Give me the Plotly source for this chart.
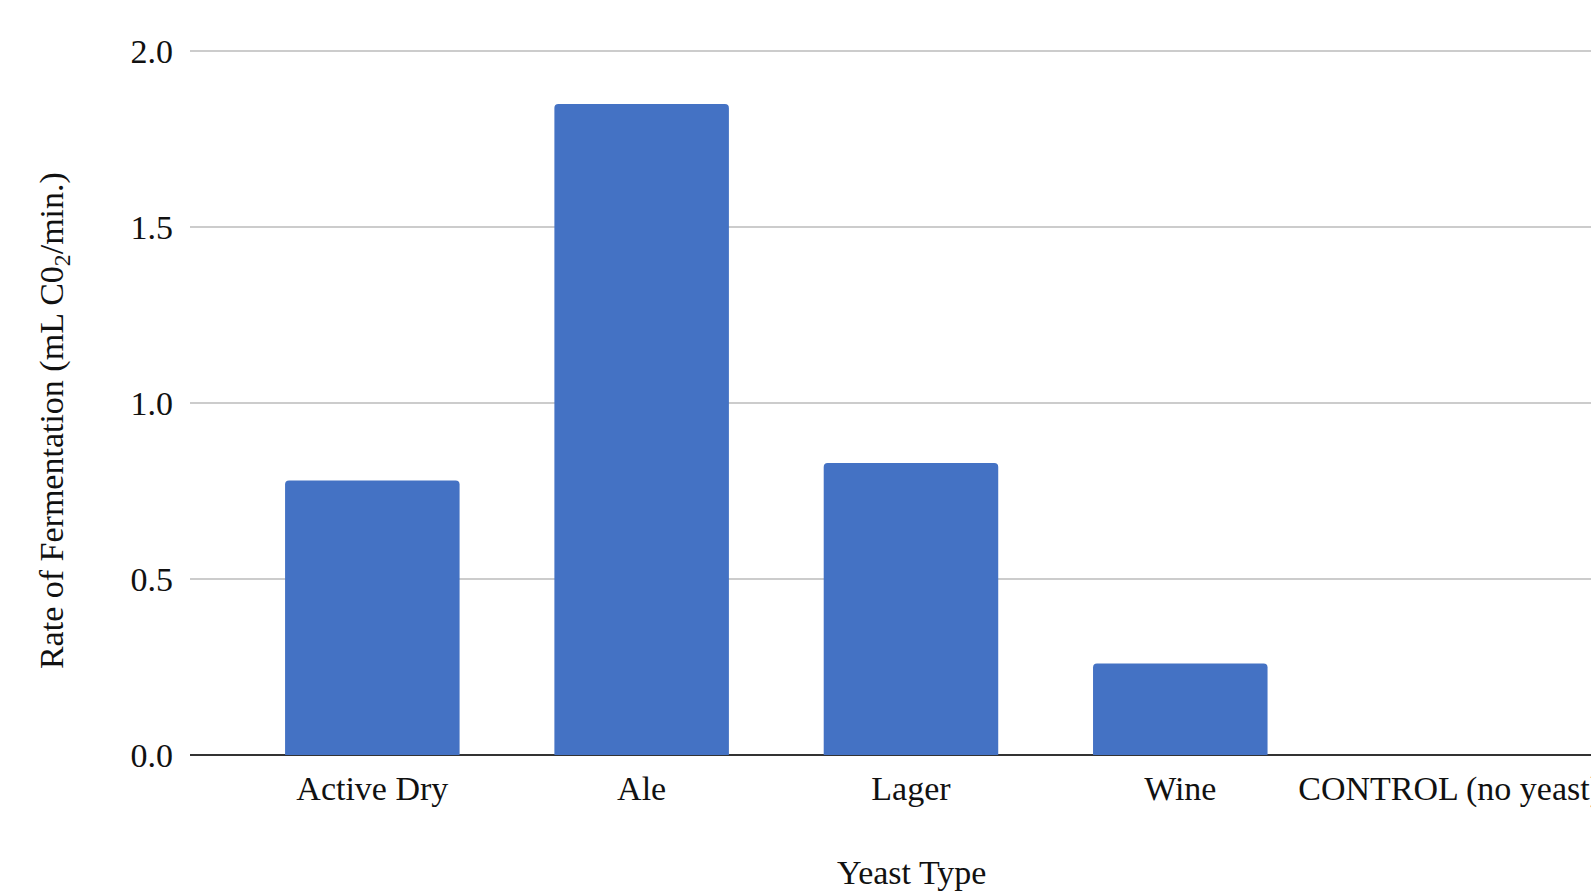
import plotly.graph_objects as go

categories = ["Active Dry", "Ale", "Lager", "Wine", "CONTROL (no yeast)"]
rates = [0.78, 1.85, 0.83, 0.26, 0.0]
y_ticks = [0.0, 0.5, 1.0, 1.5, 2.0]
y_tick_labels = ["0.0", "0.5", "1.0", "1.5", "2.0"]

W, H = 1591, 891
FONT = "Liberation Serif"
FS = 34
COL = "#111111"

top_px, zero_px = 51, 755
ymax = 2.006
top_margin = zero_px - (zero_px - top_px) * ymax / 2.0

fig = go.Figure()
fig.add_trace(go.Bar(
    x=categories, y=rates,
    marker=dict(color="#4472C4", cornerradius=4, line=dict(width=0)),
    width=0.648,
))

plot_h = zero_px - top_margin

fig.update_layout(
    width=W, height=H,
    margin=dict(l=190, r=0, t=top_margin, b=H - zero_px, autoexpand=False),
    paper_bgcolor="white", plot_bgcolor="white",
    font=dict(family=FONT, size=FS, color=COL),
    showlegend=False,
    xaxis=dict(
        range=[-0.677, 4.525], automargin=False,
        tickfont=dict(family=FONT, size=FS, color=COL),
        showgrid=False, showline=False, ticks="",
        ticklabelstandoff=10,
    ),
    yaxis=dict(
        range=[0, ymax], automargin=False,
        tickvals=y_ticks, ticktext=y_tick_labels,
        tickfont=dict(family=FONT, size=FS, color=COL),
        showgrid=True, gridcolor="#cccccc", gridwidth=2,
        zeroline=True, zerolinecolor="#333333", zerolinewidth=2,
        showline=False, ticks="", ticklabelstandoff=16,
    ),
    annotations=[
        dict(
            text="Yeast Type", xref="paper", yref="paper",
            x=(911 - 190) / (W - 190), y=-(873 - zero_px) / plot_h,
            xanchor="center", yanchor="middle", showarrow=False,
            font=dict(family=FONT, size=FS, color=COL),
        ),
        dict(
            text="Rate of Fermentation (mL C0<sub>2</sub>/min.)",
            xref="paper", yref="paper", textangle=-90,
            x=(54 - 190) / (W - 190), y=(zero_px - 421) / plot_h,
            xanchor="center", yanchor="middle", showarrow=False,
            font=dict(family=FONT, size=FS, color=COL),
        ),
    ],
)

fig.write_html("out.html")
